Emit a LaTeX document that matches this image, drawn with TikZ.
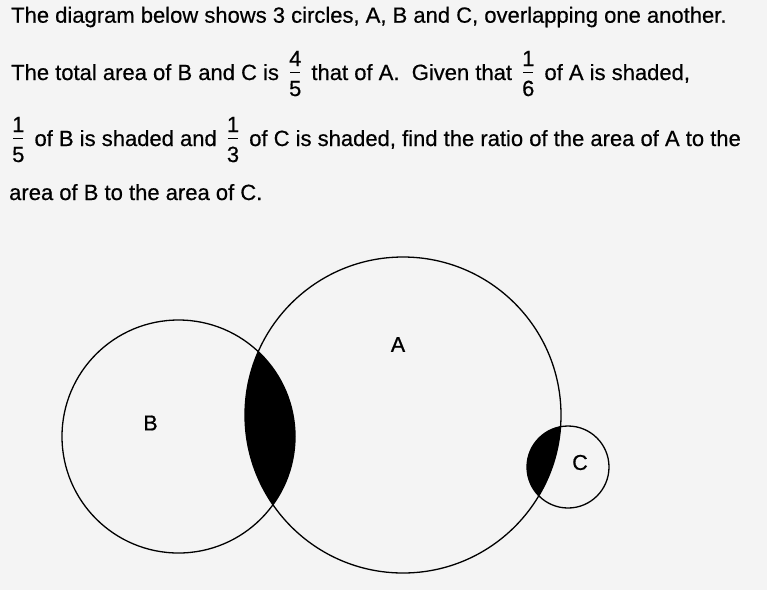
\documentclass[tikz,border=0pt]{standalone}
\usepackage{fontspec}
\setmainfont{Liberation Sans}[FakeBold=0.5]
\newfontfamily\lblfont{Liberation Sans}[FakeBold=0.8]
\definecolor{paper}{RGB}{244,244,244}
\newcommand\fr[2]{\mbox{\kern4pt\rlap{\raisebox{14pt}{#1}}\rlap{\kern1pt\raisebox{7pt}{\rule{10pt}{0.9pt}}}\raisebox{-16pt}{#2}\kern4pt}}
\tikzset{
  txt/.style={anchor=base west, inner sep=0pt, font=\fontsize{22}{26}\selectfont},
  lbl/.style={inner sep=0pt, font=\lblfont\fontsize{21.5}{24}\selectfont},
  ring/.style={draw=black, line width=1.3pt},
}
\begin{document}
\begin{tikzpicture}[x=1pt,y=-1pt]
\fill[paper] (0,0) rectangle (767,590);
\useasboundingbox (0,0) rectangle (767,590);
% text
\node[txt] (l1) at (11,22.7) {The diagram below shows 3 circles, A, B and C, overlapping one another.};
\node[txt] (l2) at (11,80) {The total area of B and C is \fr{4}{5} that of A.\ \ Given that \fr{1}{6} of A is shaded,};
\node[txt] (l3) at (8,146) {\fr{1}{5} of B is shaded and \fr{1}{3} of C is shaded, find the ratio of the area of A to the};
\node[txt] (l4) at (9,200) {area of B to the area of C.};
% circles
\coordinate (cA) at (403,415);
\coordinate (cB) at (178.5,436.5);
\coordinate (cC) at (568,467);
\begin{scope}
  \clip (cA) circle (158);
  \fill[black] (cB) circle (116.5);
  \fill[black] (cC) circle (41);
\end{scope}
\draw[ring] (cA) circle (158);
\draw[ring] (cB) circle (116.5);
\draw[ring] (cC) circle (41);
\node[lbl] (la) at (398,344.5) {A};
\node[lbl] (lb) at (150.5,423) {B};
\node[lbl] (lc) at (580,462.5) {C};
\end{tikzpicture}
\end{document}
